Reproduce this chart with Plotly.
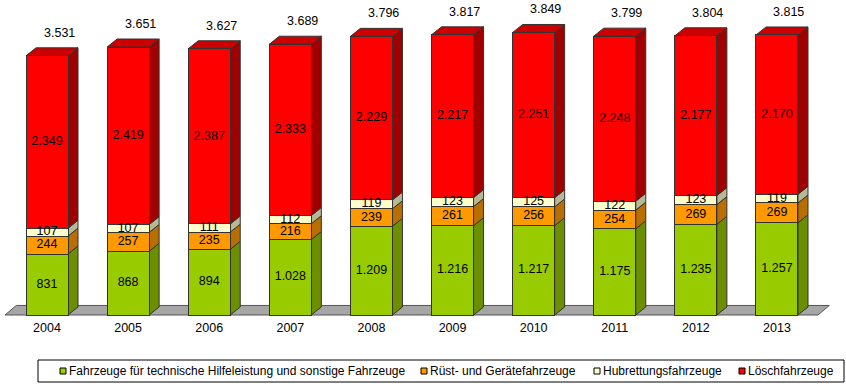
import plotly.graph_objects as go

# --- data -------------------------------------------------------------
years = ["2004", "2005", "2006", "2007", "2008", "2009", "2010", "2011", "2012", "2013"]
series_names = [
    "Fahrzeuge für technische Hilfeleistung und sonstige Fahrzeuge",
    "Rüst- und Gerätefahrzeuge",
    "Hubrettungsfahrzeuge",
    "Löschfahrzeuge",
]
technische_hilfe = [831, 868, 894, 1028, 1209, 1216, 1217, 1175, 1235, 1257]
ruest_geraete = [244, 257, 235, 216, 239, 261, 256, 254, 269, 269]
hubrettung = [107, 107, 111, 112, 119, 123, 125, 122, 123, 119]
loesch = [2349, 2419, 2387, 2333, 2229, 2217, 2251, 2248, 2177, 2170]

series_values = [technische_hilfe, ruest_geraete, hubrettung, loesch]

# --- style ------------------------------------------------------------
front_colors = ["#99CC00", "#FF9900", "#FFFFCC", "#FF0000"]
side_colors = ["#6B8F00", "#B86E00", "#B8B894", "#A00000"]
top_color = "#CC0000"
edge = "#333333"
FONT = "Liberation Sans, Arial, sans-serif"

W, H = 846, 384
PX_PER_CAT = 81.11      # horizontal pixels per category
X0_PX = 47              # pixel centre of the first bar
PX_PER_UNIT = 0.0734    # vertical pixels per vehicle
BASE_PX = 315           # pixel row of the value 0
PLOT_BOTTOM = 316       # bottom of the plotting area

x_range = [-X0_PX / PX_PER_CAT, (W - X0_PX) / PX_PER_CAT]
y_range = [(BASE_PX - PLOT_BOTTOM) / PX_PER_UNIT, BASE_PX / PX_PER_UNIT]

BAR_W = 42 / PX_PER_CAT
DX = 10 / PX_PER_CAT
DY = 8 / PX_PER_UNIT


def de(v):
    return f"{v:,}".replace(",", ".")


def paper_x(px):
    return px / W


def paper_y(py):
    return (PLOT_BOTTOM - py) / PLOT_BOTTOM


idx = list(range(len(years)))
totals = [sum(vals) for vals in zip(*series_values)]

fig = go.Figure()
shapes = []

# floor under the bars
fl, fr = -0.518, len(years) - 1 + 0.505
fdx, fdy = 0.14, 130
shapes.append(dict(
    type="path", xref="x", yref="y", layer="below",
    path=f"M {fl},0 L {fr},0 L {fr + fdx},{fdy} L {fl + fdx},{fdy} Z",
    fillcolor="#A6A6A6", line=dict(color="#555555", width=1),
))

# front faces
for name, vals, col in zip(series_names, series_values, front_colors):
    fig.add_trace(go.Bar(
        x=idx, y=vals, name=name, width=BAR_W,
        marker=dict(color=col, line=dict(color=edge, width=1)),
        showlegend=False, hoverinfo="skip",
    ))

# side and top faces
base = [0] * len(years)
for k, (vals, scol) in enumerate(zip(series_values, side_colors)):
    for i, v in enumerate(vals):
        y0, y1 = base[i], base[i] + v
        xr = i + BAR_W / 2
        shapes.append(dict(
            type="path", xref="x", yref="y", layer="below",
            path=(f"M {xr},{y0} L {xr + DX},{y0 + DY} "
                  f"L {xr + DX},{y1 + DY} L {xr},{y1} Z"),
            fillcolor=scol, line=dict(color=edge, width=1),
        ))
        if k == len(series_values) - 1:
            xl = i - BAR_W / 2
            shapes.append(dict(
                type="path", xref="x", yref="y", layer="below",
                path=(f"M {xl},{y1} L {xr},{y1} L {xr + DX},{y1 + DY} "
                      f"L {xl + DX},{y1 + DY} Z"),
                fillcolor=top_color, line=dict(color=edge, width=1),
            ))
        base[i] = y1

# value labels inside each segment
base = [0] * len(years)
for vals in series_values:
    mids = [b + v / 2 for b, v in zip(base, vals)]
    fig.add_trace(go.Scatter(
        x=idx, y=mids, mode="text", text=[de(v) for v in vals],
        textfont=dict(family=FONT, size=12.5, color="#000000"),
        showlegend=False, hoverinfo="skip",
    ))
    base = [b + v for b, v in zip(base, vals)]

annotations = []
# totals above the bars
for i, t in enumerate(totals):
    annotations.append(dict(
        x=i, y=t, xref="x", yref="y", text=de(t), showarrow=False,
        xshift=12, yshift=23,
        font=dict(family=FONT, size=12.5, color="#000000"),
    ))

# legend box
shapes.append(dict(
    type="rect", xref="paper", yref="paper",
    x0=paper_x(38), x1=paper_x(844), y0=paper_y(382), y1=paper_y(360),
    fillcolor="#FFFFFF", line=dict(color="#000000", width=1),
))
legend_marker_px = [60, 421, 594, 739]
for name, col, mx in zip(series_names, front_colors, legend_marker_px):
    shapes.append(dict(
        type="rect", xref="paper", yref="paper",
        x0=paper_x(mx), x1=paper_x(mx + 6), y0=paper_y(374), y1=paper_y(368),
        fillcolor=col, line=dict(color="#000000", width=1),
    ))
    annotations.append(dict(
        x=paper_x(mx + 7), y=paper_y(371), xref="paper", yref="paper",
        xanchor="left", yanchor="middle", text=name, showarrow=False,
        font=dict(family=FONT, size=12, color="#000000"),
    ))

fig.update_layout(
    width=W, height=H,
    margin=dict(l=0, r=0, t=0, b=H - PLOT_BOTTOM),
    barmode="stack",
    paper_bgcolor="#FFFFFF", plot_bgcolor="#FFFFFF",
    shapes=shapes, annotations=annotations,
    showlegend=False,
    xaxis=dict(
        range=x_range, tickvals=idx, ticktext=years,
        showgrid=False, zeroline=False, showline=False, ticks="",
        ticklabelstandoff=2,
        tickfont=dict(family=FONT, size=12.5, color="#000000"),
        fixedrange=True,
    ),
    yaxis=dict(
        range=y_range, visible=False, showgrid=False, zeroline=False,
        fixedrange=True,
    ),
)

fig.write_html("out.html")
